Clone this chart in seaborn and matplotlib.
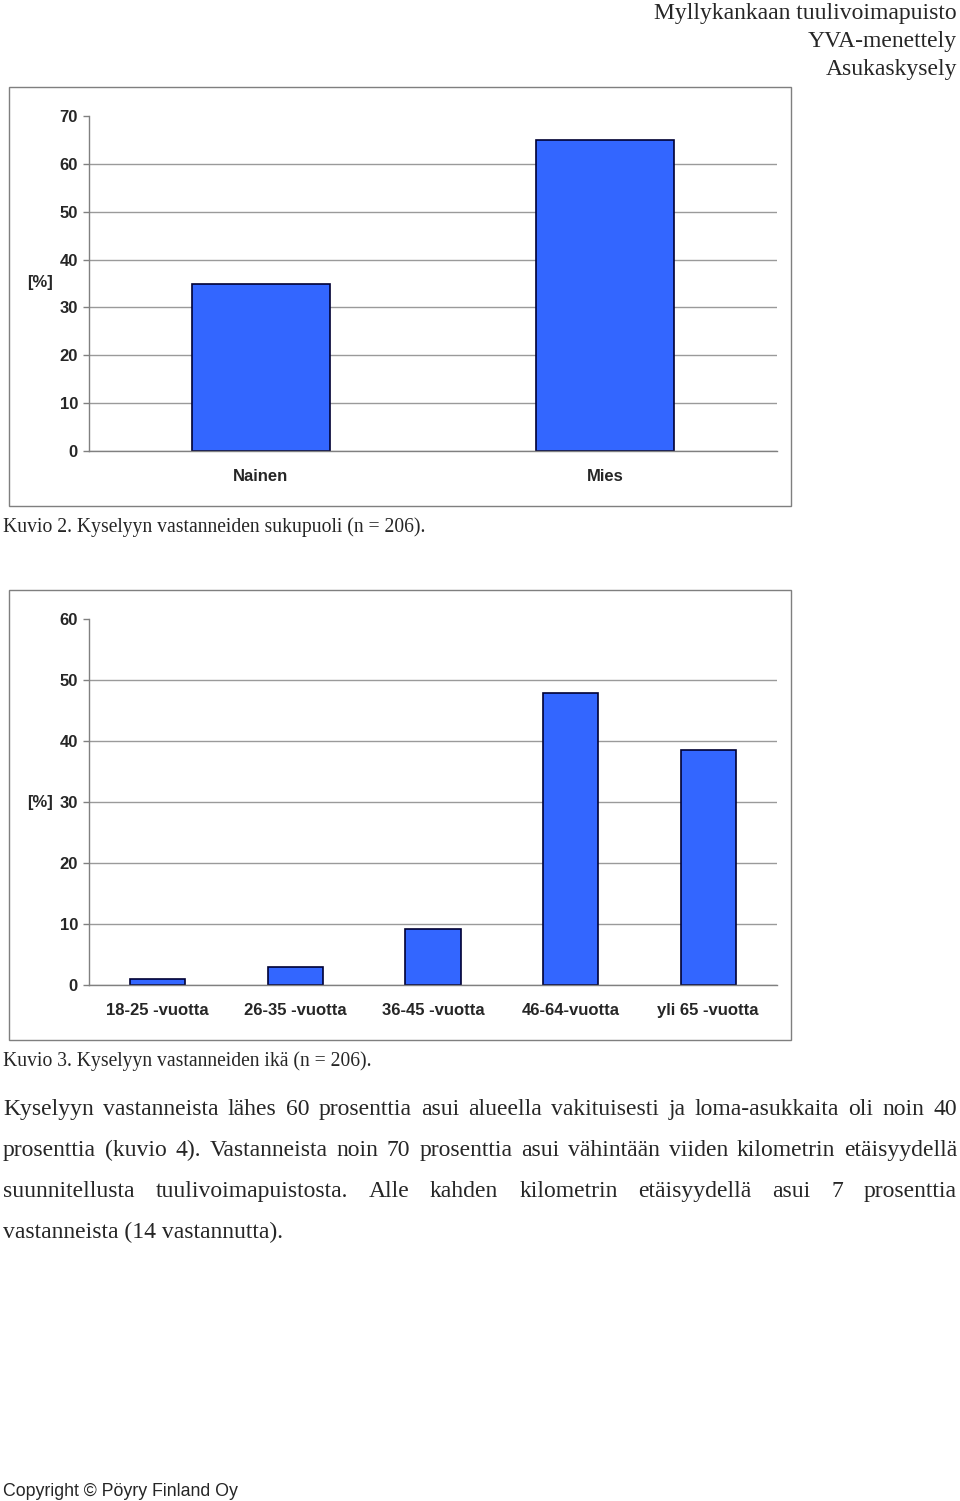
import matplotlib
matplotlib.use("Agg")
import matplotlib.pyplot as plt
from matplotlib.patches import Rectangle
import numpy as np
import pandas as pd
import seaborn as sns

# data
gender_labels = ["Nainen", "Mies"]
gender_pct = [35.0, 65.0]

age_labels = ["18-25 -vuotta", "26-35 -vuotta", "36-45 -vuotta", "46-64-vuotta", "yli 65 -vuotta"]
age_pct = [1.0, 2.9, 9.2, 47.8, 38.6]

header_lines = ["Myllykankaan tuulivoimapuisto", "YVA-menettely", "Asukaskysely"]
caption_gender = "Kuvio 2. Kyselyyn vastanneiden sukupuoli (n = 206)."
caption_age = "Kuvio 3. Kyselyyn vastanneiden ikä (n = 206)."
body_lines = [
    "Kyselyyn vastanneista lähes 60 prosenttia asui alueella vakituisesti ja loma-asukkaita oli noin 40",
    "prosenttia (kuvio 4). Vastanneista noin 70 prosenttia asui vähintään viiden kilometrin etäisyydellä",
    "suunnitellusta tuulivoimapuistosta. Alle kahden kilometrin etäisyydellä asui 7 prosenttia",
    "vastanneista (14 vastannutta).",
]
footer = "Copyright © Pöyry Finland Oy"

W, H = 960, 1501
BAR = "#3366FF"
EDGE = "#000033"
GRID = "#9a9a9a"
SERIF = ["Liberation Serif", "DejaVu Serif"]

sns.set_style("white")
plt.rcParams["font.family"] = ["Liberation Sans", "DejaVu Sans"]

fig = plt.figure(figsize=(W / 100, H / 100), dpi=100)
renderer = fig.canvas.get_renderer()


def fx(px):
    return px / W


def fy(py):
    return 1 - py / H


def put(x, y, s, width=None, ha="left", size=12, va="center", **kw):
    t = fig.text(fx(x), fy(y), s, ha=ha, va=va, fontsize=size, **kw)
    if width:
        w = t.get_window_extent(renderer).width
        t.set_fontsize(size * width / w)
    return t


def justify(x0, x1, y, line, size, **kw):
    # spread the words of one line over the full text width, on a shared baseline
    words = line.split()
    texts = [fig.text(0, fy(y), w, va="baseline", fontsize=size, **kw) for w in words]
    widths = [t.get_window_extent(renderer).width for t in texts]
    gap = (x1 - x0 - sum(widths)) / (len(words) - 1)
    x = x0
    for t, w in zip(texts, widths):
        t.set_x(fx(x))
        x += w + gap


def bar_panel(top, bottom, labels, values, ymax, frame, ylab_y):
    ax = fig.add_axes([fx(89), fy(bottom), fx(777) - fx(89), (bottom - top) / H])
    df = pd.DataFrame({"cat": labels, "pct": values})
    sns.barplot(data=df, x="cat", y="pct", color=BAR, edgecolor=EDGE, linewidth=1.2,
                width=0.4, saturation=1, ax=ax)
    n = len(labels)
    ax.set_xlim(-0.5, n - 0.5)
    ax.set_ylim(0, ymax)
    ax.set_yticks(np.arange(0, ymax + 1, 10))
    ax.set_xticks(np.arange(-0.5, n), minor=True)
    ax.set(xlabel=None, ylabel=None)
    ax.set_axisbelow(True)
    ax.grid(axis="y", color=GRID, linewidth=1)
    ax.grid(axis="x", visible=False)
    ax.yaxis.get_gridlines()[-1].set_visible(False)
    for s in ["top", "right"]:
        ax.spines[s].set_visible(False)
    for s in ["left", "bottom"]:
        ax.spines[s].set_color("#808080")
        ax.spines[s].set_linewidth(1)
    ax.tick_params(axis="x", which="major", length=0, pad=13, labelsize=12)
    ax.tick_params(axis="x", which="minor", length=4, color="#808080", width=1)
    ax.tick_params(axis="y", length=4, color="#808080", width=1, pad=4, labelsize=12, left=True)
    for lab in ax.get_xticklabels() + ax.get_yticklabels():
        lab.set_fontweight("bold")
    fig.text(fx(40), fy(ylab_y), "[%]", ha="center", va="center", fontsize=12, fontweight="bold")
    x0, y0, x1, y1 = frame
    fig.add_artist(Rectangle((fx(x0), fy(y1)), fx(x1) - fx(x0), (y1 - y0) / H,
                             transform=fig.transFigure, fill=False, edgecolor="#7f7f7f", lw=1))
    return ax


# header
t = put(957, 14, header_lines[0], width=304, ha="right", size=15, family=SERIF)
hs = t.get_fontsize()
put(957, 41, header_lines[1], ha="right", size=hs, family=SERIF)
put(957, 69, header_lines[2], ha="right", size=hs, family=SERIF)

bar_panel(116, 451, gender_labels, gender_pct, 70, (9, 87, 791, 506), 283)
put(3, 527, caption_gender, width=425, size=14, family=SERIF)

bar_panel(619, 985, age_labels, age_pct, 60, (9, 590, 791, 1040), 802)
put(3, 1061, caption_age, width=370, size=14, family=SERIF)

# body text
last = put(3, 1238, body_lines[3], width=281, size=17, va="baseline", family=SERIF)
bs = last.get_fontsize()
for i, line in enumerate(body_lines[:3]):
    justify(3, 957, 1115 + 41 * i, line, bs, family=SERIF)

put(3, 1491, footer, width=235, size=13)

fig.savefig("out.png", dpi=100)
plt.close(fig)
